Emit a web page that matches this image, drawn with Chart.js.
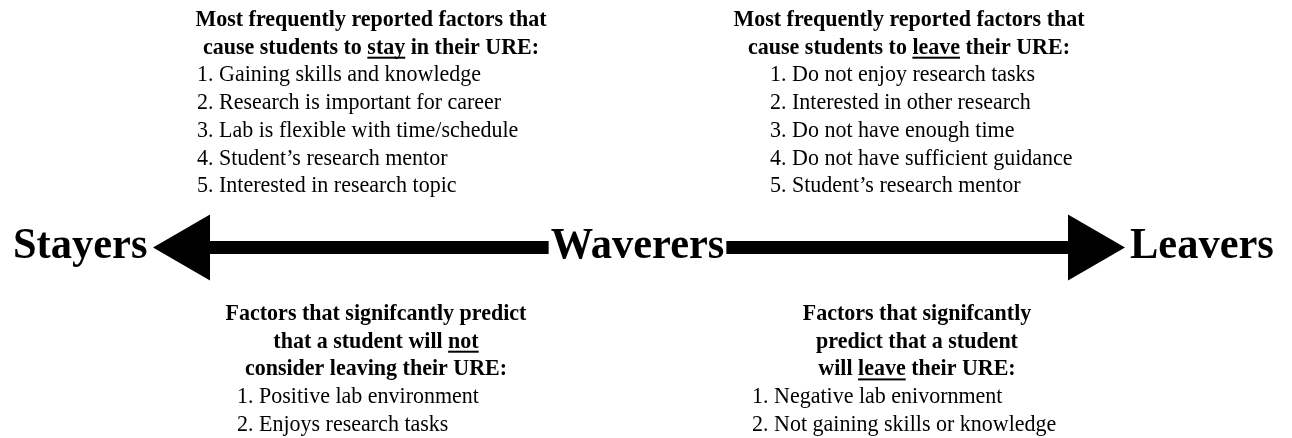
<!DOCTYPE html>
<html>
<head>
<meta charset="utf-8">
<script src="https://cdn.jsdelivr.net/npm/chart.js@4"></script>
<style>
  html, body { margin: 0; padding: 0; background: #fff; }
  #wrap { width: 1292px; height: 438px; }
</style>
</head>
<body>
<div id="wrap"><canvas id="continuumChart" width="1292" height="438"></canvas></div>
<script>
// groups along the continuum
const groups = ['Stayers', 'Waverers', 'Leavers'];

// text blocks (words between _ are underlined)
const stayHeading = ['Most frequently reported factors that', 'cause students to _stay_ in their URE:'];
const stayReasons = [
    'Gaining skills and knowledge',
    'Research is important for career',
    'Lab is flexible with time/schedule',
    'Student\u2019s research mentor',
    'Interested in research topic'
];
const leaveHeading = ['Most frequently reported factors that', 'cause students to _leave_ their URE:'];
const leaveReasons = [
    'Do not enjoy research tasks',
    'Interested in other research',
    'Do not have enough time',
    'Do not have sufficient guidance',
    'Student\u2019s research mentor'
];
const notLeaveHeading = ['Factors that signifcantly predict', 'that a student will _not_', 'consider leaving their URE:'];
const notLeavePredictors = ['Positive lab environment', 'Enjoys research tasks'];
const willLeaveHeading = ['Factors that signifcantly', 'predict that a student', 'will _leave_ their URE:'];
const willLeavePredictors = ['Negative lab enivornment', 'Not gaining skills or knowledge'];

// layout (diagram units = pixels of the 1292 x 438 canvas)
const axisY = 247.5;
const headR = 38;
const blocks = [
    { heading: stayHeading, items: stayReasons, cx: 371, itemX: 197, y0: 26 },
    { heading: leaveHeading, items: leaveReasons, cx: 909, itemX: 770, y0: 26 },
    { heading: notLeaveHeading, items: notLeavePredictors, cx: 376, itemX: 237, y0: 320 },
    { heading: willLeaveHeading, items: willLeavePredictors, cx: 917, itemX: 752, y0: 320 }
];
const lineGap = 27.7;
const groupLabels = [
    { x: 13, align: 'left' },
    { x: 637.5, align: 'center' },
    { x: 1130, align: 'left' }
];
const SERIF = '"Liberation Serif", "Times New Roman", serif';

// the source lettering is a little taller/narrower than plain Times
function drawRich(ctx, text, x, y, align, sx, sy) {
    const parts = text.split('_');
    const total = ctx.measureText(parts.join('')).width * sx;
    let cur = align === 'center' ? x - total / 2 : (align === 'right' ? x - total : x);
    ctx.textAlign = 'left';
    parts.forEach((p, i) => {
        const w = ctx.measureText(p).width * sx;
        ctx.save();
        ctx.translate(cur, y);
        ctx.scale(sx, sy);
        ctx.fillText(p, 0, 0);
        ctx.restore();
        if (i % 2 === 1) ctx.fillRect(cur, y + 3, w, 2);
        cur += w;
    });
}

const textPlugin = {
    id: 'diagramText',
    afterDatasetsDraw(chart) {
        const ctx = chart.ctx;
        const xs = chart.scales.x, ys = chart.scales.y;
        ctx.save();
        ctx.fillStyle = '#000';
        ctx.textBaseline = 'alphabetic';
        blocks.forEach(b => {
            let y = b.y0;
            ctx.font = 'bold 22px ' + SERIF;
            b.heading.forEach(line => {
                drawRich(ctx, line, xs.getPixelForValue(b.cx), ys.getPixelForValue(y), 'center', 1, 1.07);
                y += lineGap;
            });
            ctx.font = '22px ' + SERIF;
            b.items.forEach((item, i) => {
                drawRich(ctx, (i + 1) + '. ' + item, xs.getPixelForValue(b.itemX), ys.getPixelForValue(y), 'left', 1, 1.07);
                y += lineGap;
            });
        });
        ctx.font = 'bold 44px ' + SERIF;
        groups.forEach((g, i) => {
            const l = groupLabels[i];
            if (i === 1) {
                // clear the gap in the shaft behind the middle label
                const w = ctx.measureText(g).width * 0.965;
                ctx.fillStyle = '#fff';
                ctx.fillRect(xs.getPixelForValue(l.x) - w / 2 - 2, ys.getPixelForValue(axisY) - 12, w + 4, 24);
                ctx.fillStyle = '#000';
            }
            drawRich(ctx, g, xs.getPixelForValue(l.x), ys.getPixelForValue(axisY + 10), l.align, 0.965, 1);
        });
        ctx.restore();
    }
};

function arrow(fromX, toX, rotation) {
    return {
        data: [{ x: fromX, y: axisY }, { x: toX, y: axisY }],
        borderColor: '#000',
        borderWidth: 13,
        backgroundColor: '#000',
        pointRadius: [0, headR],
        pointStyle: 'triangle',
        pointRotation: rotation,
        pointBackgroundColor: '#000',
        pointBorderWidth: 0,
        showLine: true,
        tension: 0,
        clip: false
    };
}

new Chart(document.getElementById('continuumChart'), {
    type: 'scatter',
    data: {
        datasets: [
            arrow(560, 153 + headR, -90),
            arrow(715, 1125 - headR, 90)
        ]
    },
    options: {
        responsive: false,
        animation: false,
        events: [],
        layout: { padding: 0, autoPadding: false },
        scales: {
            x: { type: 'linear', min: 0, max: 1292, display: false },
            y: { type: 'linear', min: 0, max: 438, reverse: true, display: false }
        },
        plugins: {
            legend: { display: false },
            tooltip: { enabled: false }
        }
    },
    plugins: [textPlugin]
});
</script>
</body>
</html>
